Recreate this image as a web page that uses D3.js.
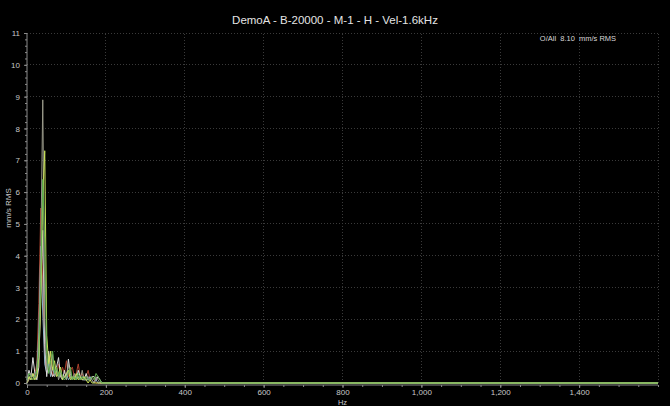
<!DOCTYPE html>
<html><head><meta charset="utf-8">
<script src="https://cdn.jsdelivr.net/npm/d3@7/dist/d3.min.js"></script>
<style>html,body{margin:0;padding:0;background:#000;}svg{display:block;}</style>
</head><body><svg id="c" width="670" height="406"></svg>
<script>
const title = "DemoA - B-20000 - M-1 - H - Vel-1.6kHz";
const overallText = "O/All\u00a0\u00a08.10\u00a0\u00a0mm/s RMS";
const yLabel = "mm/s RMS";
const xLabel = "Hz";
const xTicks = [0,200,400,600,800,1000,1200,1400];
const yTicks = [0,1,2,3,4,5,6,7,8,9,10,11];
const freqs = [0,5,10,15,20,25,30,35,40,45,50,55,60,65,70,75,80,85,90,95,100,105,110,115,120,125,130,135,140,145,150,155,160,165,170,175,180,185,190,195,200,1600];
const seriesNames = ["red","blue","white","gray","yellowGreen","green"];
const red         = [0,0.1,0.2,0.1,0.3,0.6,2.5,5.5,3.0,0.8,0.3,0.5,0.9,0.2,0.4,0.3,0.6,0.2,0.5,0.3,0.7,0.2,0.4,0.5,0.2,0.3,0.6,0.2,0.3,0.1,0.2,0.4,0.1,0.2,0.1,0,0,0,0,0,0,0];
const blue        = [0,0.2,0.1,0.3,0.2,0.4,1.6,4.3,2.2,0.6,0.3,0.6,0.2,0.5,0.2,0.4,0.2,0.3,0.1,0.2,0.3,0.1,0.2,0.1,0.2,0.1,0.2,0.1,0.2,0.1,0.1,0.1,0.2,0.1,0,0.1,0,0,0,0,0,0];
const white       = [0.1,0.4,0.2,0.8,0.3,0.1,0.5,3.0,4.8,1.2,0.2,1.0,0.4,0.2,0.3,0.5,0.8,0.2,0.1,0.4,0.1,0.75,0.3,0.1,0.2,0.1,0.4,0.2,0.1,0.1,0.3,0.1,0.1,0.2,0.2,0.1,0.2,0.1,0,0,0,0];
const gray        = [0,0.1,0.3,0.2,0.1,0.5,1.2,4.2,8.9,2.0,0.4,0.8,0.3,0.9,0.2,0.5,0.1,0.3,0.1,0.2,0.1,0.6,0.2,0.1,0.3,0.1,0.2,0.1,0.4,0.1,0.1,0.2,0.1,0.1,0,0.2,0.1,0,0,0,0,0];
const yellowGreen = [0,0.2,0.1,0.3,0.1,0.2,0.8,2.5,5.8,7.3,1.5,0.6,1.0,0.4,0.7,0.2,0.3,0.5,0.1,0.2,0.3,0.4,0.1,0.2,0.1,0.3,0.1,0.2,0.1,0.2,0.1,0,0.1,0,0,0,0,0,0,0,0,0];
const green       = [0.1,0.3,0.2,0.1,0.2,0.4,1.0,3.2,6.4,4.4,0.9,0.3,0.7,1.0,0.3,0.5,0.2,0.4,0.2,0.1,0.2,0.3,0.5,0.1,0.2,0.1,0.3,0.1,0.2,0.1,0.2,0.1,0.1,0.2,0.1,0.3,0.2,0.1,0,0,0,0];
const seriesColors = ["#a8402c","#8fb4cc","#dcdcdc","#9a9a8a","#c9e25a","#5fae4f"];

const series = [red, blue, white, gray, yellowGreen, green];
const svg = d3.select("#c");
const W = 670, H = 406;
const m = {left:27, right:12, top:33, bottom:23};
const x = d3.scaleLinear().domain([0,1600]).range([m.left, W - m.right]);
const y = d3.scaleLinear().domain([0,11]).range([H - m.bottom, m.top]);
svg.append("rect").attr("width",W).attr("height",H).attr("fill","#000");

// grid
const gridColor = "#3a3a3a";
const g = svg.append("g");
g.selectAll("line.hy").data(yTicks.filter(d=>d>0)).join("line")
  .attr("x1",x(0)).attr("x2",x(1600)).attr("y1",d=>y(d)).attr("y2",d=>y(d))
  .attr("stroke",gridColor).attr("stroke-width",1).attr("stroke-dasharray","1,2").attr("shape-rendering","crispEdges");
g.selectAll("line.vx").data(xTicks.filter(d=>d>0).concat([1600])).join("line")
  .attr("x1",d=>x(d)).attr("x2",d=>x(d)).attr("y1",y(0)).attr("y2",y(11))
  .attr("stroke",gridColor).attr("stroke-width",1).attr("stroke-dasharray","1,2").attr("shape-rendering","crispEdges");

// lines
const line = d3.line().x((d,i)=>x(freqs[i])).y(d=>y(d));
svg.append("g").selectAll("path").data(series).join("path")
  .attr("d",d=>line(d)).attr("fill","none")
  .attr("stroke",(d,i)=>seriesColors[i]).attr("stroke-width",1).attr("stroke-linejoin","round");

// axes
const axisColor = "#8a8a8a";
const ff = "Liberation Sans, Arial, sans-serif";
const yAx = svg.append("g").attr("transform",`translate(${m.left},0)`)
  .call(d3.axisLeft(y).tickValues(yTicks).tickSize(3).tickPadding(4).tickFormat(d3.format("d")));
const yMinor = svg.append("g").attr("transform",`translate(${m.left},0)`)
  .call(d3.axisLeft(y).ticks(55).tickSize(2).tickFormat(""));
yMinor.select(".domain").remove();
const xAx = svg.append("g").attr("transform",`translate(0,${y(0)+2})`)
  .call(d3.axisBottom(x).tickValues(xTicks).tickSize(3).tickPadding(1).tickFormat(d3.format(",")));
const xMinor = svg.append("g").attr("transform",`translate(0,${y(0)+2})`)
  .call(d3.axisBottom(x).ticks(32).tickSize(2).tickFormat(""));
xMinor.select(".domain").remove();
[yAx,yMinor,xAx,xMinor].forEach(a=>{
  a.selectAll("path,line").attr("stroke",axisColor);
  a.selectAll("text").attr("fill","#c8c8c8").attr("font-size","8px").attr("font-family",ff);
});
yAx.select(".domain").attr("d",`M0,${y(11)}V${y(0)+2}`);
xAx.select(".domain").attr("d",`M${x(0)},0H${x(1600)}`);

// texts
svg.append("text").attr("x",335).attr("y",24).attr("text-anchor","middle")
  .attr("fill","#e4e4e4").attr("font-size","11.5px").attr("font-family",ff).text(title);
svg.append("text").attr("x",578).attr("y",41).attr("text-anchor","middle")
  .attr("fill","#d8d8d8").attr("font-size","7.5px").attr("font-family",ff).text(overallText);
svg.append("text").attr("transform",`translate(11,${(y(0)+y(11))/2}) rotate(-90)`).attr("text-anchor","middle")
  .attr("fill","#c8c8c8").attr("font-size","8px").attr("font-family",ff).text(yLabel);
svg.append("text").attr("x",x(800)).attr("y",405).attr("text-anchor","middle")
  .attr("fill","#c8c8c8").attr("font-size","7.5px").attr("font-family",ff).text(xLabel);
</script></body></html>
